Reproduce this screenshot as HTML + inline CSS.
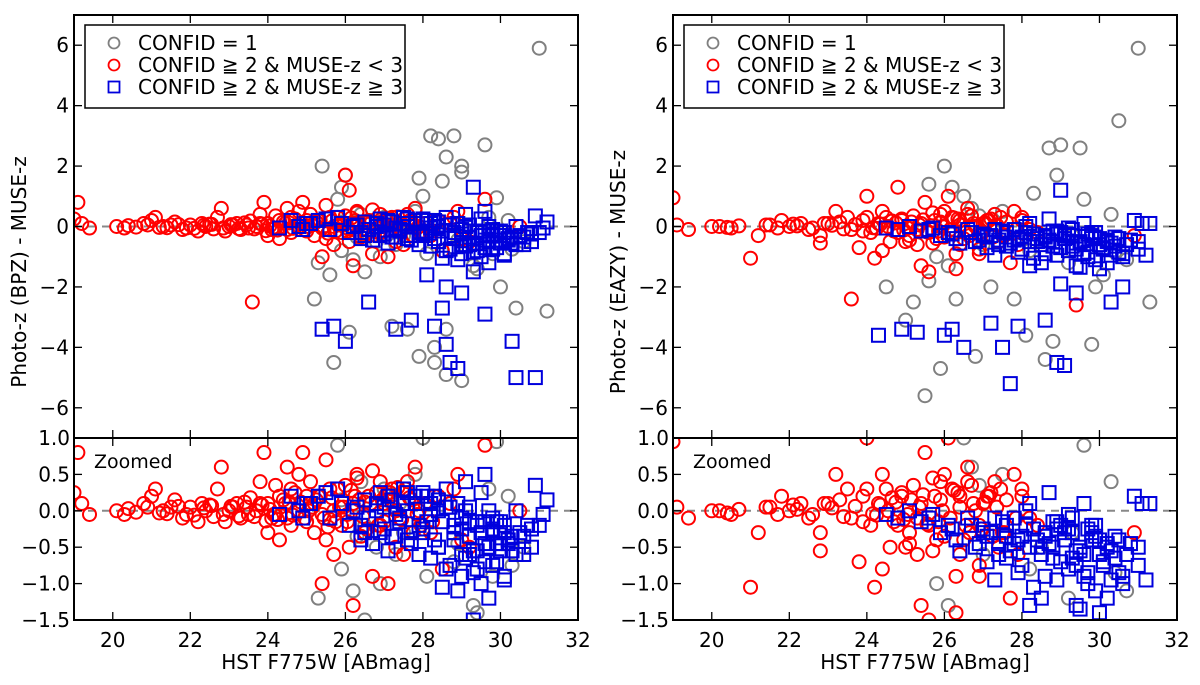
<!DOCTYPE html>
<html><head><meta charset="utf-8"><style>
html,body{margin:0;padding:0;background:#fff;overflow:hidden;width:1200px;height:685px;}
svg{display:block;font-family:"DejaVu Sans","Liberation Sans",sans-serif;}
</style></head><body>
<svg id="chart" width="1200" height="685" xmlns="http://www.w3.org/2000/svg"></svg>
<script>
const xTicks=[20,22,24,26,28,30,32];
const yTicksTop=[6,4,2,0,-2,-4,-6];
const yTicksBot=[1.0,0.5,0.0,-0.5,-1.0,-1.5];
const yTickBotLabels=["1.0","0.5","0.0","\u22120.5","\u22121.0","\u22121.5"];
const legendLabels=["CONFID = 1","CONFID \u2267 2 & MUSE-z < 3","CONFID \u2267 2 & MUSE-z \u2267 3"];

// BPZ panel
const bpzGrayX=[25.4,25.9,26.0,25.8,28.2,28.4,28.8,29.0,29.0,28.6,29.6,28.5,27.9,28.0,25.2,25.6,25.9,26.2,26.5,25.7,26.1,27.2,27.6,27.9,28.3,28.6,28.3,28.6,29.0,30.4,31.2,29.3,30.0,26.8,27.0,27.5,31.0,28.8,29.8,26.6,29.9,30.2,27.3,25.3,26.4,28.1,29.4,30.6,27.8,26.9,25.9,26.3,27.1,28.9,29.7,30.3,26.5,27.4];
const bpzGrayY=[2.0,1.3,1.7,0.9,3.0,2.9,3.0,2.0,1.8,2.3,2.7,1.5,1.6,1.0,-2.4,-1.6,-0.8,-1.1,-1.5,-4.5,-3.5,-3.3,-3.4,-4.3,-4.5,-3.4,-4.0,-4.9,-5.1,-2.7,-2.8,-1.3,-2.0,-0.5,0.3,-0.3,5.9,-0.7,-0.9,0.2,0.95,0.2,-0.6,-1.2,0.4,-0.9,-1.4,-0.5,0.5,-1.0,0.15,-0.35,0.25,-0.45,0.3,-0.75,-0.2,0.1];
const bpzRedX=[19.0,19.1,19.2,19.4,20.1,20.3,20.4,20.6,20.8,21.0,21.1,21.3,21.6,21.8,22.0,22.2,22.4,22.7,22.8,22.9,23.2,23.5,23.8,23.9,24.0,24.2,24.3,24.5,24.6,24.8,25.0,25.2,25.5,25.7,26.0,26.1,26.3,26.5,26.7,27.0,27.3,27.6,27.9,28.2,28.5,29.0,29.6,30.5,23.6,24.9,25.2,23.0,21.2,22.5,24.1,25.8,26.9,25.4,26.2,27.1,21.5,21.9,22.3,22.6,23.1,23.3,23.4,23.7,24.0,24.2,24.4,24.5,24.7,24.8,25.0,25.1,25.3,25.4,25.6,25.7,25.9,26.0,26.2,26.4,26.6,26.8,27.0,27.2,27.4,27.7,28.0,28.3,28.7,29.2,25.5,24.3,26.1,27.5,26.3,25.1,24.6,23.8,26.7,27.8,28.9,
 20.9,21.4,21.7,22.1,22.35,22.55,22.85,23.05,23.25,23.45,23.65,23.85,24.05,24.25,24.45,24.65,24.85,25.05,25.25,25.45,25.65,25.85,26.05,26.25,26.45,26.65,26.85,27.05,27.25,27.45,27.65,27.85,28.05,28.25,24.15,24.55,24.95,25.35,25.75,26.15,26.55,26.95,27.35,27.75,23.55,23.95,25.55,25.95,26.35,26.75,27.15,27.55,27.95,28.4,28.8,25.15,25.6,26.05,26.5,26.9,27.3];
const bpzRedY=[0.25,0.8,0.1,-0.05,0.0,-0.05,0.03,-0.02,0.1,0.2,0.3,0.0,0.15,-0.1,0.05,-0.15,0.0,0.3,0.6,-0.15,0.1,-0.05,0.4,0.8,-0.3,0.35,-0.4,0.6,-0.2,0.5,0.2,-0.3,0.7,-0.6,1.7,1.2,0.5,-0.3,-0.9,0.1,-0.5,0.4,0.0,-0.3,-0.8,-0.4,0.9,0.0,-2.5,0.8,0.1,0.0,-0.03,0.08,-0.1,0.3,-0.2,-1.0,-1.3,-1.0,0.05,-0.05,0.1,-0.08,0.05,-0.1,0.12,0.0,0.1,-0.05,0.15,-0.1,0.25,0.0,-0.15,0.1,0.2,-0.05,0.3,0.0,-0.2,0.35,0.1,-0.35,0.2,0.25,-0.15,0.3,-0.1,0.15,-0.25,0.2,0.1,-0.5,-0.4,0.2,-0.5,-0.6,0.45,0.4,0.3,0.1,0.55,0.6,0.5,
 0.05,-0.04,0.06,-0.06,0.04,0.07,-0.05,0.06,-0.07,0.05,-0.08,0.08,0.02,-0.12,0.1,-0.06,0.12,0.0,0.15,-0.1,0.18,0.05,-0.15,0.2,-0.08,0.1,-0.2,0.22,0.05,-0.12,0.18,-0.05,0.1,-0.15,-0.05,0.12,-0.1,0.2,-0.15,0.28,-0.25,0.15,0.32,-0.3,0.18,-0.14,-0.22,0.05,0.15,-0.28,0.25,0.3,-0.2,0.2,0.3,0.05,-0.12,-0.05,0.12,0.4,0.0];
const bpzBlueX=[24.3,24.6,24.9,25.1,25.4,25.7,26.0,26.6,27.3,27.7,28.1,28.6,28.5,28.3,28.6,28.9,28.7,29.3,29.6,29.0,30.3,30.4,30.9,29.3,29.6,30.9,31.2,25.3,25.6,25.9,26.1,26.3,26.5,26.8,27.0,27.2,27.4,27.6,27.8,28.0,28.2,28.4,28.6,28.8,29.0,29.1,29.2,29.4,29.5,29.7,29.8,29.9,30.0,30.1,30.2,30.3,30.5,30.6,30.8,31.0,27.1,27.5,27.9,28.3,28.7,29.1,29.5,29.9,30.1,28.5,28.9,29.3,29.7,27.7,28.1,26.4,26.9,25.8,29.0,29.6,30.4,30.7,28.2,28.8,29.4,29.8,30.0,29.2,28.4,27.3,
 26.2,26.6,27.0,27.4,27.8,28.2,28.6,29.0,29.4,29.8,30.2,26.4,26.8,27.2,27.6,28.0,28.4,28.8,29.2,29.6,30.0,30.4,26.5,26.9,27.3,27.7,28.1,28.5,28.9,29.3,29.7,30.1,27.5,27.9,28.3,28.7,29.1,29.5,29.9,30.3,28.0,28.4,28.8,29.2,29.6,30.0,27.6,28.6,29.4,29.8,30.1,29.0,28.2,26.7,27.1,25.5,25.0,24.8,30.6,30.8,31.1];
const bpzBlueY=[-0.05,0.2,-0.1,0.1,-3.4,-3.3,-3.8,-2.5,-3.4,-3.1,-1.6,-2.0,-2.7,-3.3,-3.9,-4.7,-4.5,-1.5,-2.9,-2.2,-3.8,-5.0,-5.0,1.3,0.5,0.35,0.15,0.2,-0.1,0.1,-0.2,0.05,-0.3,0.0,-0.25,0.15,-0.1,-0.4,0.2,-0.3,0.1,-0.5,0.3,-0.2,-0.6,0.0,-0.35,-0.8,0.25,-0.5,-0.1,-0.7,-0.3,-0.9,-0.4,-0.55,-0.3,-0.6,-0.5,-0.2,-0.55,0.3,-0.6,0.2,-0.75,0.4,-1.0,-0.45,-0.95,-1.05,-1.1,-0.85,-1.2,-0.3,-0.15,-0.4,0.25,0.3,-0.25,-0.15,0.0,-0.2,-0.05,-0.3,-0.15,-0.25,-0.45,-0.6,-0.5,-0.35,
 0.0,-0.1,0.05,-0.15,0.1,-0.05,0.05,-0.1,-0.2,-0.3,-0.45,-0.2,0.1,-0.35,0.0,-0.25,0.15,-0.4,0.05,-0.45,-0.15,-0.6,0.15,-0.3,-0.05,-0.45,0.2,-0.15,0.1,-0.55,0.0,-0.3,0.1,-0.2,-0.4,0.05,-0.65,-0.3,-0.15,-0.35,0.25,0.0,-0.3,-0.15,-0.7,-0.55,0.25,-0.8,-0.55,-0.75,-0.2,-0.9,-0.65,-0.45,0.2,0.25,0.1,0.0,-0.35,-0.25,-0.05];

// EAZY panel
const ezGrayX=[31.0,30.5,28.7,29.0,28.9,29.5,26.0,25.6,26.2,28.3,26.7,25.5,25.9,26.8,28.1,28.6,28.8,29.8,25.2,25.0,25.6,26.1,27.2,29.9,31.3,30.1,24.5,26.3,27.8,26.5,27.5,29.2,30.3,28.2,25.8,27.0,29.6,30.7,26.9,28.5,29.3,30.4];
const ezGrayY=[5.9,3.5,2.6,2.7,1.7,2.6,2.0,1.4,1.3,1.1,0.6,-5.6,-4.7,-4.3,-3.6,-4.4,-3.8,-3.9,-2.5,-3.1,-1.8,-1.3,-2.0,-2.0,-2.5,-1.6,-2.0,-2.4,-2.4,1.0,0.5,-1.2,0.4,-0.8,-1.0,-0.6,0.9,-1.1,0.35,-0.5,-0.3,-0.85];
const ezRedX=[19.0,19.1,19.4,20.2,20.5,21.0,21.2,21.8,22.3,22.8,22.8,23.2,23.5,23.8,24.0,24.2,24.4,24.6,24.0,24.8,25.4,25.5,25.8,26.1,26.3,26.6,26.9,27.1,27.5,27.8,28.2,29.4,23.6,21.5,22.0,23.0,24.9,25.3,25.9,26.4,27.3,27.9,20.0,20.4,20.7,21.4,21.7,22.1,22.5,22.9,23.3,23.6,23.9,24.1,24.3,24.5,24.7,24.9,25.1,25.2,25.4,25.6,25.7,25.9,26.0,26.2,26.4,26.5,26.7,26.9,27.0,27.2,27.4,27.6,28.0,28.4,25.0,26.3,24.4,27.7,30.9,25.6,26.8,
 22.2,22.6,23.1,23.4,23.7,24.15,24.35,24.55,24.75,24.95,25.15,25.35,25.55,25.75,25.95,26.15,26.35,26.55,26.75,26.95,27.15,27.35,27.55,24.25,24.65,25.05,25.45,25.85,26.25,26.65,27.05,27.45,27.85,23.9,24.8,25.7,26.6,27.25,28.0,25.3,26.0,26.9,25.1,26.4];
const ezRedY=[0.95,0.05,-0.1,0.0,-0.05,-1.05,-0.3,0.2,0.1,-0.3,-0.55,0.5,0.3,-0.7,0.3,-1.05,0.5,-0.5,1.0,1.3,-1.3,0.8,-0.4,1.0,-1.4,0.6,-0.9,0.2,-0.3,0.5,-0.1,-2.6,-2.4,0.05,0.0,0.1,0.2,-0.1,0.4,-0.6,0.4,-0.6,0.0,-0.03,0.02,0.05,-0.05,0.08,-0.1,0.1,0.15,-0.1,0.2,-0.2,0.1,0.3,-0.15,0.25,-0.3,0.35,0.1,-0.2,0.45,0.15,-0.35,0.3,0.2,-0.4,0.35,-0.2,0.1,0.25,-0.5,0.15,0.3,-0.2,-0.5,-0.9,-0.8,-1.2,-0.3,-1.5,0.0,
 0.02,-0.05,0.04,-0.08,0.06,-0.04,0.08,0.0,0.12,-0.12,0.15,0.05,-0.18,0.2,0.0,-0.1,0.25,-0.2,0.1,-0.25,0.2,0.05,-0.3,-0.06,0.18,-0.05,0.22,-0.15,0.28,-0.3,0.12,0.3,-0.1,-0.15,-0.2,-0.55,0.4,-0.35,0.2,-0.6,0.5,-0.75,-0.45,0.05];
const ezBlueX=[24.3,24.9,25.3,26.0,26.2,26.5,27.2,27.5,27.9,28.6,28.9,29.1,27.7,29.0,29.4,30.6,30.3,31.1,29.0,28.2,24.5,24.8,25.1,25.4,25.7,25.9,26.1,26.3,26.6,26.8,27.0,27.2,27.4,27.6,27.8,28.0,28.2,28.4,28.6,28.8,29.0,29.1,29.2,29.3,29.5,29.6,29.8,29.9,30.0,30.1,30.2,30.3,30.4,30.5,30.7,30.8,31.0,31.2,27.3,27.9,28.5,28.9,29.4,29.7,30.0,30.6,28.1,28.7,29.2,29.6,29.9,27.1,26.4,28.3,29.5,30.9,31.3,28.8,27.6,30.2,
 26.7,27.1,27.5,27.9,28.3,28.7,29.1,29.5,29.9,30.3,26.9,27.3,27.7,28.1,28.5,28.9,29.3,29.7,30.1,30.5,27.0,27.4,27.8,28.2,28.6,29.0,29.4,29.8,30.2,28.4,28.8,29.2,29.6,30.0,30.4,28.0,29.3,29.7,30.6,31.0,27.6,28.6,29.8,26.2,25.6,28.9,29.4];
const ezBlueY=[-3.6,-3.4,-3.5,-3.6,-3.4,-4.0,-3.2,-4.0,-3.3,-3.1,-4.5,-4.6,-5.2,-1.9,-2.2,-2.0,-2.5,0.1,1.2,-1.3,-0.05,-0.1,0.0,-0.15,-0.05,-0.3,-0.2,-0.4,-0.1,-0.5,-0.25,-0.3,-0.6,-0.2,-0.45,-0.35,0.1,-0.5,-0.3,-0.65,-0.2,-0.4,-0.8,-0.3,-0.55,-0.9,-0.4,-1.1,-0.6,-0.75,-0.5,-0.95,-0.35,-0.85,-0.6,-0.45,-0.75,-0.95,-0.95,-0.85,-1.2,-0.25,-1.3,-1.0,-1.4,-1.0,0.0,0.25,-0.05,0.1,-0.2,-0.7,-0.55,-1.05,-1.35,0.2,0.1,-0.15,-0.35,-1.2,
 -0.2,-0.35,-0.15,-0.4,-0.25,-0.45,-0.3,-0.5,-0.35,-0.55,-0.45,-0.1,-0.55,-0.2,-0.6,-0.15,-0.65,-0.25,-0.7,-0.4,-0.3,-0.45,-0.1,-0.5,-0.35,-0.7,-0.55,-0.2,-0.45,-0.4,-0.5,-0.25,-0.6,-0.4,-0.65,-0.75,-0.1,-0.85,-0.9,-0.5,-0.65,-0.9,-0.3,-0.25,-0.1,-0.95,-0.75];

const panels=[
 {ox:74,ylabel:"Photo-z (BPZ) - MUSE-z",key:"bpz",g:[bpzGrayX,bpzGrayY],r:[bpzRedX,bpzRedY],b:[bpzBlueX,bpzBlueY]},
 {ox:673,ylabel:"Photo-z (EAZY) - MUSE-z",key:"eazy",g:[ezGrayX,ezGrayY],r:[ezRedX,ezRedY],b:[ezBlueX,ezBlueY]}
];
const NS="http://www.w3.org/2000/svg";
const svg=document.getElementById('chart');
function mk(tag,attrs,parent){const e=document.createElementNS(NS,tag);for(const k in attrs)e.setAttribute(k,attrs[k]);(parent||svg).appendChild(e);return e;}
const W=504, TOP=15, MID=438, BOT=620;
const defs=mk('defs',{});
panels.forEach((p,pi)=>{
  const xs=v=>p.ox+(v-19)/(32-19)*W;
  const yt=v=>TOP+(7-v)/14*(MID-TOP);
  const yb=v=>MID+(1-v)/2.5*(BOT-MID);
  const g=mk('g',{});
  
  
  const c1=mk('clipPath',{id:'ct'+pi},defs);mk('rect',{x:p.ox,y:TOP,width:W,height:MID-TOP},c1);
  const c2=mk('clipPath',{id:'cb'+pi},defs);mk('rect',{x:p.ox,y:MID,width:W,height:BOT-MID},c2);
  [[yt,'ct','top'],[yb,'cb','zoomed']].forEach(([ys,cid,nm])=>{
    const pg=mk('g',{'clip-path':'url(#'+cid+pi+')'},g);
    
    
    const zl=mk('line',{x1:xs(19),x2:xs(32),y1:ys(0),y2:ys(0),stroke:'#888','stroke-width':2,'stroke-dasharray':'8,6'},pg);
    
    
    p.g[0].forEach((x,i)=>{const e=mk('circle',{cx:xs(x),cy:ys(p.g[1][i]),r:6.5,fill:'none',stroke:'#808080','stroke-width':2},pg);
      
      });
    p.r[0].forEach((x,i)=>{const e=mk('circle',{cx:xs(x),cy:ys(p.r[1][i]),r:6.5,fill:'none',stroke:'#ff0000','stroke-width':2},pg);
      
      });
    p.b[0].forEach((x,i)=>{const e=mk('rect',{x:xs(x)-6.5,y:ys(p.b[1][i])-6.5,width:13,height:13,fill:'none',stroke:'#0000dd','stroke-width':2},pg);
      
      });
  });
  [[TOP,MID],[MID,BOT]].forEach(([a,b])=>{const f=mk('rect',{x:p.ox,y:a,width:W,height:b-a,fill:'none',stroke:'#000','stroke-width':2},g);
    
    });
  xTicks.forEach(t=>{const x=xs(t);
    [[TOP,1],[MID,-1],[MID,1],[BOT,-1]].forEach(([y,d])=>mk('line',{x1:x,x2:x,y1:y,y2:y+d*8,stroke:'#000','stroke-width':1.3},g));
    const tx=mk('text',{x:x,y:647,'font-size':20,'text-anchor':'middle'},g);tx.textContent=t;
    
    });
  yTicksTop.forEach(t=>{const y=yt(t);
    mk('line',{x1:p.ox,x2:p.ox+8,y1:y,y2:y,stroke:'#000','stroke-width':1.3},g);
    mk('line',{x1:p.ox+W,x2:p.ox+W-8,y1:y,y2:y,stroke:'#000','stroke-width':1.3},g);
    const tx=mk('text',{x:p.ox-5,y:y+7,'font-size':20,'text-anchor':'end'},g);tx.textContent=(t<0?'\u2212'+(-t):t);
    
    });
  yTicksBot.forEach((t,i)=>{const y=yb(t);
    mk('line',{x1:p.ox,x2:p.ox+8,y1:y,y2:y,stroke:'#000','stroke-width':1.3},g);
    mk('line',{x1:p.ox+W,x2:p.ox+W-8,y1:y,y2:y,stroke:'#000','stroke-width':1.3},g);
    const tx=mk('text',{x:p.ox-4,y:y+7,'font-size':20,'text-anchor':'end'},g);tx.textContent=yTickBotLabels[i];
    
    });
  const xl=mk('text',{x:p.ox+W/2,y:669,'font-size':20,'text-anchor':'middle'},g);xl.textContent='HST F775W [ABmag]';
  
  
  const yl=mk('text',{x:0,y:0,'font-size':20,'text-anchor':'middle',transform:`translate(${p.ox-48},${272}) rotate(-90)`},g);yl.textContent=p.ylabel;
  
  
  const zt=mk('text',{x:p.ox+20,y:468,'font-size':19},g);zt.textContent='Zoomed';
  
  
  const lg=mk('g',{},g);
  
  
  mk('rect',{x:p.ox+11,y:25,width:320,height:83,fill:'#fff',stroke:'#000','stroke-width':1.5},lg);
  legendLabels.forEach((l,i)=>{const y=43+i*22;const mx=p.ox+40;
    if(i==0) mk('circle',{cx:mx,cy:y,r:5.5,fill:'none',stroke:'#808080','stroke-width':1.8},lg);
    else if(i==1) mk('circle',{cx:mx,cy:y,r:5.5,fill:'none',stroke:'#ff0000','stroke-width':1.8},lg);
    else mk('rect',{x:mx-5.5,y:y-5.5,width:11,height:11,fill:'none',stroke:'#0000dd','stroke-width':1.8},lg);
    const t=mk('text',{x:p.ox+64,y:y+7,'font-size':20},lg);t.textContent=l;
    
    });
});
</script>
</body></html>
